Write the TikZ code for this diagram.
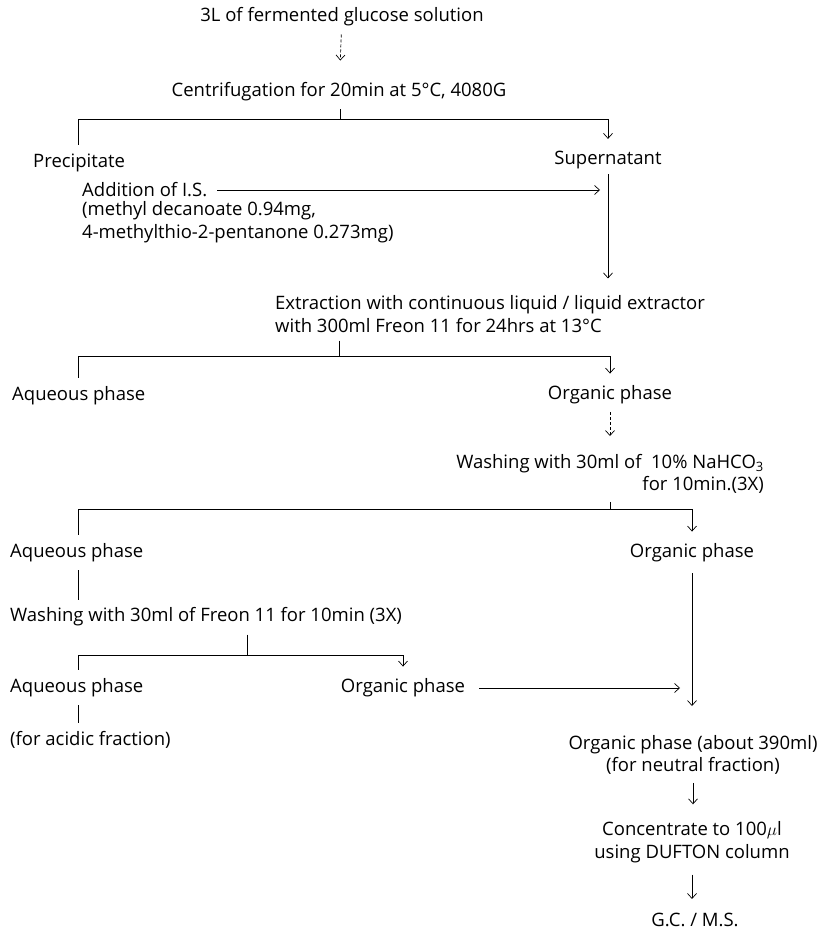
\documentclass[tikz,border=0pt]{standalone}
\usepackage{fontspec}
\setmainfont{Open Sans}
\usepackage{tikz}
\usetikzlibrary{arrows.meta}
\tikzset{stage/.style={font=\fontsize{18.5}{22.5}\selectfont,inner sep=2pt},stack/.style={stage,align=center},plain link/.style={line width=.7pt,shorten <=6pt,shorten >=6pt},flow/.style={-{Straight Barb[length=5pt,width=9pt]},line width=.7pt,shorten <=6pt,shorten >=10pt},branch/.style={flow,shorten <=7pt},broken/.style={dash pattern=on 3pt off 2pt}}

\begin{document}
\begin{tikzpicture}[x=1pt,y=-1pt]
 \useasboundingbox (0,0) rectangle (824,931);
 \node[stage] (src) at (342,17) {3L of fermented glucose solution};
 \node[stage] (cent) at (339,92) {Centrifugation for 20min at 5°C, 4080G};
 \node[stage,anchor=west] (prec) at (31,163) {Precipitate};
 \node[stage] (sup) at (608,160) {Supernatant};
 \node[stage,anchor=west] (is) at (80,190) {Addition of I.S.};
 \node[stage,anchor=west,align=left] (isdet) at (80,222) {(methyl decanoate 0.94mg,\\4-methylthio-2-pentanone 0.273mg)};
 \node[stage,anchor=west,align=left] (ext) at (273,314) {Extraction with continuous liquid / liquid extractor\\with 300ml Freon 11 for 24hrs at 13°C};
 \node[stage,anchor=west] (aq1) at (10,396) {Aqueous phase};
 \node[stage] (org1) at (610,395) {Organic phase};
 \node[stage,anchor=east,align=right] (wash1) at (766,474) {Washing with 30ml of\ \ 10\% NaHCO\textsubscript{3}\\for 10min.(3X)};
 \node[stage,anchor=west] (aq2) at (8,553) {Aqueous phase};
 \node[stage] (org2) at (692,553) {Organic phase};
 \node[stage,anchor=west] (wash2) at (8,617) {Washing with 30ml of Freon 11 for 10min (3X)};
 \node[stage,anchor=west] (aq3) at (8,688) {Aqueous phase};
 \node[stage] (org3) at (403,688) {Organic phase};
 \node[stage,anchor=west] (acid) at (8,740) {(for acidic fraction)};
 \coordinate (merge) at (692,706);
 \node[stack] (neut) at (693,755) {Organic phase (about 390ml)\\(for neutral fraction)};
 \node[stack] (conc) at (692,842) {Concentrate to 100$\mu$l\\using DUFTON column};
 \node[stage] (gcms) at (695,920) {G.C. / M.S.};
 \foreach \i/\p/\t/\yy/\cl/\cr/\r in {1/cent/340/119/prec/sup/608,2/ext/339/356/aq1/org1/610,3/wash1/610/509/aq2/org2/692,4/wash2/247/655/aq3/org3/403} {
   \coordinate (tick\i) at (\t,\yy);
   \coordinate (left\i) at (78,\yy);
   \coordinate (right\i) at (\r,\yy);
   \draw[plain link,shorten >=0pt] (\p.south -| tick\i) -- (tick\i);
   \draw[branch] (\cl.north -| left\i) -- (left\i) -- (right\i) -- (\cr.north -| right\i);
 }
 \draw[flow,broken,shorten >=20pt] (src) -- (cent);
 \draw[flow,shorten <=8pt,shorten >=8pt] (is.east) -- (is.east -| sup);
 \draw[flow,shorten <=3pt,shorten >=15pt] (sup.south) -- (sup.south |- ext.north);
 \draw[flow,broken,shorten >=16pt] (org1.south) -- (org1.south |- wash1.north);
 \draw[plain link] (aq2.south -| left3) -- (wash2.north -| left3);
 \draw[plain link] (aq3.south -| left4) -- (acid.north -| left4);
 \draw[flow,shorten <=9pt,shorten >=0pt] (org2.south) -- (merge);
 \draw[flow,shorten <=12pt,shorten >=12pt] (org3.east) -- (org3.east -| merge);
 \draw[flow,shorten >=15pt] (neut.south) -- (neut.south |- conc.north);
 \draw[flow,shorten <=10pt,shorten >=12pt] (conc.south) -- (conc.south |- gcms.north);
\end{tikzpicture}
\end{document}
